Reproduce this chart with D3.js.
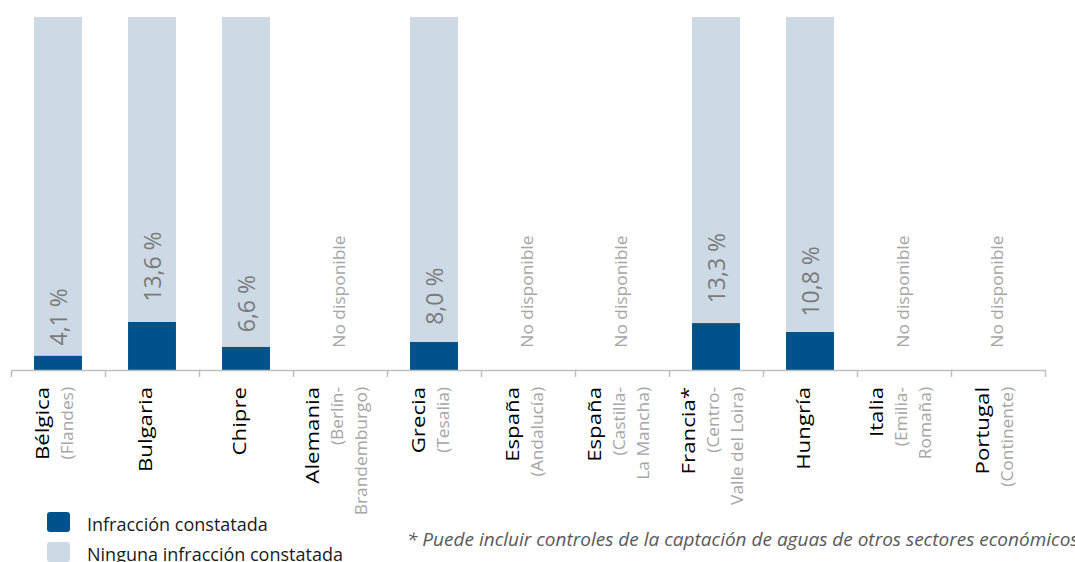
<html>
  <head>
    <meta charset="utf-8" />
    <script src="https://d3js.org/d3.v7.min.js"></script>
    <style>
      body {
        margin: 0;
        background: #fff;
      }
      svg text {
        font-family: "Open Sans", "Noto Sans", sans-serif;
      }
    </style>
  </head>
  <body>
    <svg id="chart" width="1075" height="562"></svg>
    <script>
      // datos
      var paises = ["Bélgica", "Bulgaria", "Chipre", "Alemania", "Grecia", "España", "España", "Francia*", "Hungría", "Italia", "Portugal"];
      var regiones = ["(Flandes)", "", "", "(Berlín-|Brandemburgo)", "(Tesalia)", "(Andalucía)", "(Castilla-|La Mancha)", "(Centro-|Valle del Loira)", "", "(Emilia-|Romaña)", "(Continente)"];
      var infraccion = [4.1, 13.6, 6.6, null, 8.0, null, null, 13.3, 10.8, null, null];
      var ninguna = [95.9, 86.4, 93.4, null, 92.0, null, null, 86.7, 89.2, null, null];
      var series = ["Infracción constatada", "Ninguna infracción constatada"];
      var colores = ["#00528a", "#cdd9e4"];
      var noDisponible = "No disponible";
      var nota = "* Puede incluir controles de la captación de aguas de otros sectores económicos";

      var svg = d3.select("#chart");
      var margenIzq = 11, margenDer = 1045, baseY = 370, topeY = 17;

      var filas = paises.map(function (p, i) {
        return { i: i, pais: p, region: regiones[i], infraccion: infraccion[i], ninguna: ninguna[i] };
      });

      var x = d3.scaleBand()
        .domain(d3.range(paises.length))
        .range([margenIzq, margenDer])
        .paddingInner(0.49)
        .paddingOuter(0.245);

      var y = d3.scaleLinear().domain([0, 100]).range([baseY, topeY]);

      var stack = d3.stack().keys(["infraccion", "ninguna"]);
      var capas = stack(filas.filter(function (d) { return d.infraccion != null; }));

      svg.append("g")
        .selectAll("g")
        .data(capas)
        .enter()
        .append("g")
        .attr("fill", function (d, i) { return colores[i]; })
        .selectAll("rect")
        .data(function (d) { return d; })
        .enter()
        .append("rect")
        .attr("x", function (d) { return x(d.data.i); })
        .attr("width", x.bandwidth())
        .attr("y", function (d) { return y(d[1]); })
        .attr("height", function (d) { return y(d[0]) - y(d[1]); });

      // eje con marcas entre categorías
      var xTicks = d3.scaleLinear().domain([0, paises.length]).range([margenIzq, margenDer]);
      var eje = svg.append("g")
        .attr("transform", "translate(0," + baseY + ")")
        .call(d3.axisBottom(xTicks).tickValues(d3.range(paises.length + 1)).tickFormat("").tickSize(7).tickSizeOuter(0));
      eje.select(".domain").attr("stroke", "#bfbfbf").attr("stroke-width", 1.5);
      eje.selectAll(".tick line").attr("stroke", "#bfbfbf").attr("stroke-width", 1.5);

      var centro = function (i) { return x(i) + x.bandwidth() / 2; };
      var fmt = function (v) { return v.toFixed(1).replace(".", ",") + " %"; };

      // valores
      svg.append("g")
        .selectAll("text")
        .data(filas.filter(function (d) { return d.infraccion != null; }))
        .enter()
        .append("text")
        .attr("transform", function (d) {
          return "translate(" + centro(d.i) + "," + y(8.9 + 1.5 * d.infraccion) + ") rotate(-90)";
        })
        .attr("text-anchor", "middle")
        .attr("dy", "0.38em")
        .attr("font-size", 23)
        .attr("fill", "#7a7a7a")
        .text(function (d) { return fmt(d.infraccion); });

      // no disponible
      svg.append("g")
        .selectAll("text")
        .data(filas.filter(function (d) { return d.infraccion == null; }))
        .enter()
        .append("text")
        .attr("transform", function (d) {
          return "translate(" + centro(d.i) + "," + y(22.2) + ") rotate(-90) scale(1.12,1)";
        })
        .attr("text-anchor", "middle")
        .attr("dy", "0.3em")
        .attr("font-size", 15.5)
        .attr("fill", "#a6a6a6")
        .text(noDisponible);

      // etiquetas de categoría
      var paso = 24;
      filas.forEach(function (d) {
        var lineas = [{ t: d.pais, pais: true }];
        if (d.region) {
          d.region.split("|").forEach(function (r) { lineas.push({ t: r, pais: false }); });
        }
        var n = lineas.length;
        lineas.forEach(function (l, j) {
          var cx = centro(d.i) + (j - (n - 1) / 2) * paso + (n > 1 ? 3 : 0);
          svg.append("text")
            .attr("transform", "translate(" + cx + "," + 387 + ") rotate(-90) scale(" + (l.pais ? 1.27 : 1.12) + ",1)")
            .attr("text-anchor", "end")
            .attr("font-size", l.pais ? 17.5 : 15.5)
            .attr("fill", l.pais ? "#000" : "#a6a6a6")
            .text(l.t);
        });
      });

      // leyenda
      var leyenda = svg.append("g")
        .selectAll("g")
        .data(series)
        .enter()
        .append("g")
        .attr("transform", function (d, i) { return "translate(47," + (512 + i * 30) + ")"; });
      leyenda.append("rect")
        .attr("width", 23)
        .attr("height", 20)
        .attr("rx", 3)
        .attr("fill", function (d, i) { return colores[i]; });
      leyenda.append("text")
        .attr("x", 40)
        .attr("y", 19)
        .attr("font-size", 18)
        .attr("fill", "#1a1a1a")
        .text(function (d) { return d; });

      svg.append("text")
        .attr("x", 407)
        .attr("y", 546)
        .attr("font-size", 19)
        .attr("font-style", "italic")
        .attr("fill", "#595959")
        .text(nota);
    </script>
  </body>
</html>
